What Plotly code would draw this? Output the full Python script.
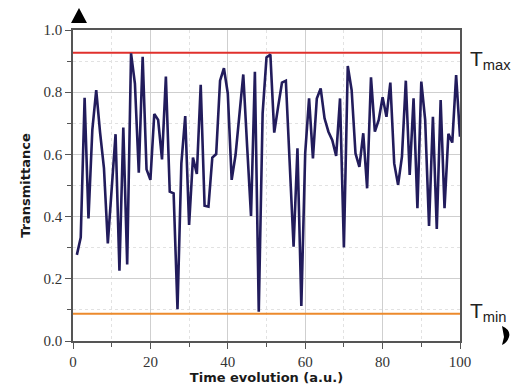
import plotly.graph_objects as go

time = list(range(1, 101))
transmittance = [
    0.277, 0.333, 0.782, 0.394, 0.68, 0.807, 0.67, 0.556, 0.314, 0.50,
    0.665, 0.226, 0.686, 0.246, 0.925, 0.828, 0.541, 0.914, 0.552, 0.518,
    0.730, 0.711, 0.584, 0.850, 0.480, 0.475, 0.102, 0.571, 0.723, 0.373,
    0.590, 0.537, 0.824, 0.435, 0.432, 0.590, 0.601, 0.837, 0.877, 0.796,
    0.518, 0.598, 0.720, 0.857, 0.625, 0.402, 0.866, 0.094, 0.732, 0.912,
    0.921, 0.670, 0.753, 0.831, 0.837, 0.570, 0.303, 0.620, 0.113, 0.604,
    0.780, 0.587, 0.780, 0.812, 0.716, 0.673, 0.646, 0.595, 0.780, 0.301,
    0.884, 0.807, 0.603, 0.560, 0.668, 0.491, 0.848, 0.673, 0.711, 0.784,
    0.721, 0.831, 0.571, 0.502, 0.593, 0.837, 0.534, 0.780, 0.427, 0.834,
    0.711, 0.370, 0.721, 0.360, 0.775, 0.427, 0.666, 0.638, 0.855, 0.657,
]
t_max = 0.927
t_min = 0.088
x_range = [0, 100]
x_ticks = [0, 20, 40, 60, 80, 100]
y_ticks = [0.0, 0.2, 0.4, 0.6, 0.8, 1.0]
y_tick_labels = ["0.0", "0.2", "0.4", "0.6", "0.8", "1.0"]

fig = go.Figure()
fig.add_trace(go.Scatter(x=x_range, y=[t_max, t_max], mode="lines",
                         line=dict(color="#e0302c", width=2), hoverinfo="skip"))
fig.add_trace(go.Scatter(x=x_range, y=[t_min, t_min], mode="lines",
                         line=dict(color="#ec8a2c", width=2), hoverinfo="skip"))
fig.add_trace(go.Scatter(x=time, y=transmittance, mode="lines",
                         line=dict(color="#221c5c", width=2.6)))

tickfont = dict(family="Liberation Serif", size=15, color="#333333")
titlefont = dict(family="DejaVu Sans", size=13, color="#1a1a1a", weight="bold")

fig.update_xaxes(
    range=x_range, tickvals=x_ticks, tickfont=tickfont, automargin=False,
    showline=True, linecolor="#555555", linewidth=1.5, mirror=True,
    ticks="outside", ticklen=6, tickcolor="#555555", tickwidth=1.2,
    showgrid=True, gridcolor="#cfcfcf", gridwidth=1, zeroline=False,
    minor=dict(dtick=10, ticks="outside", ticklen=4, tickcolor="#555555",
               showgrid=True, gridcolor="#e2e2e2", griddash="dot"),
    title=dict(text="Time evolution (a.u.)", font=titlefont, standoff=4),
)
fig.update_yaxes(
    range=[0, 1], tickvals=y_ticks, ticktext=y_tick_labels, tickfont=tickfont,
    automargin=False,
    showline=True, linecolor="#555555", linewidth=1.5, mirror=True,
    ticks="outside", ticklen=6, tickcolor="#555555", tickwidth=1.2,
    showgrid=True, gridcolor="#cfcfcf", gridwidth=1, zeroline=False,
    minor=dict(dtick=0.1, ticks="outside", ticklen=4, tickcolor="#555555",
               showgrid=True, gridcolor="#e2e2e2", griddash="dot"),
    title=dict(text="Transmittance", font=titlefont, standoff=10),
)

W, H = 517, 388
L, R, T, B = 73, 57, 30, 47
pw, ph = W - L - R, H - T - B

def px(x):
    return (x - L) / pw

def py(y):
    return (H - B - y) / ph

fig.add_annotation(xref="paper", yref="paper", x=px(468), y=py(60),
                   xanchor="left", yanchor="middle", showarrow=False,
                   text="T<sub>max</sub>",
                   font=dict(family="Liberation Sans", size=21, color="#222222"))
fig.add_annotation(xref="paper", yref="paper", x=px(468), y=py(312),
                   xanchor="left", yanchor="middle", showarrow=False,
                   text="T<sub>min</sub>",
                   font=dict(family="Liberation Sans", size=21, color="#222222"))

# arrowhead at top of y axis
fig.add_shape(type="path", xref="paper", yref="paper",
              path=f"M {px(71)},{py(23)} L {px(87)},{py(23)} L {px(79)},{py(8)} Z",
              fillcolor="black", line=dict(width=0))
# clipped arrowhead at right of x axis
fig.add_shape(type="path", xref="paper", yref="paper",
              path=(f"M {px(502)},{py(326)} Q {px(511)},{py(330)} {px(509)},{py(337)} "
                    f"Q {px(507)},{py(343)} {px(502)},{py(345)} L {px(504)},{py(337)} Z"),
              fillcolor="black", line=dict(width=0))

fig.update_layout(
    width=W, height=H, margin=dict(l=L, r=R, t=T, b=B),
    paper_bgcolor="white", plot_bgcolor="white", showlegend=False,
)
fig.write_html("out.html")
